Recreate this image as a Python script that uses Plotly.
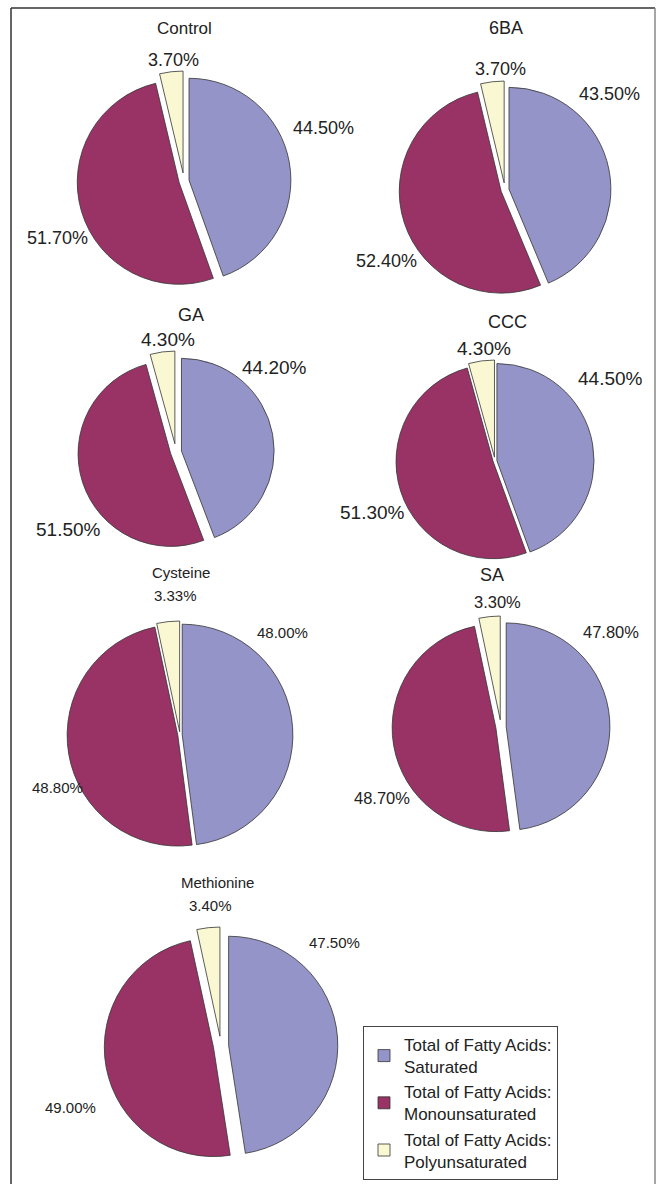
import plotly.graph_objects as go

# ---- data ----
treatments = ["Control", "6BA", "GA", "CCC", "Cysteine", "SA", "Methionine"]
categories = ["Total of Fatty Acids:<br>Saturated",
              "Total of Fatty Acids:<br>Monounsaturated",
              "Total of Fatty Acids:<br>Polyunsaturated"]
saturated = [44.50, 43.50, 44.20, 44.50, 48.00, 47.80, 47.50]
monounsaturated = [51.70, 52.40, 51.50, 51.30, 48.80, 48.70, 49.00]
polyunsaturated = [3.70, 3.70, 4.30, 4.30, 3.33, 3.30, 3.40]

# ---- layout / style (pixel geometry of each pie) ----
W, H = 659, 1184
colors = ["#9494C8", "#993366", "#FAF8D2"]
# centre x, centre y, overall half-size (px)
geom = [(184, 181, 110), (505, 190, 109), (176, 452, 101), (495, 461, 101),
        (180, 735, 114), (501, 727, 111), (221, 1046, 119)]
pulls = [[0.05, 0.05, 0.08], [0.04, 0.04, 0.07], [0.06, 0.06, 0.09],
         [0.02, 0.02, 0.04], [0.02, 0.02, 0.03], [0.05, 0.05, 0.07],
         [0.07, 0.07, 0.09]]
# label centres (sat, mono, poly) in px
label_pos = [[(323, 128), (57, 238), (173, 60)],
             [(609, 94), (386, 261), (500, 69)],
             [(274, 368), (68, 529), (168, 339)],
             [(610, 379), (372, 512), (484, 349)],
             [(282, 632), (57, 787), (175, 595)],
             [(611, 632), (382, 798), (497, 602)],
             [(334, 942), (70, 1107), (210, 905)]]
label_sizes = [18, 18, 19, 19, 15, 16.5, 15]
titles_pos = [(184, 29, 17), (506, 28, 18), (191, 315, 18), (507, 322, 18),
              (181, 573, 15), (492, 575, 18), (217, 883, 15)]
FONT = "Liberation Sans, Arial, sans-serif"
TXT = "#222222"

fig = go.Figure()
for i, name in enumerate(treatments):
    cx, cy, R = geom[i]
    vals = [saturated[i], monounsaturated[i], polyunsaturated[i]]
    fig.add_trace(go.Pie(
        labels=categories,
        values=vals,
        sort=False,
        direction="clockwise",
        rotation=0,
        pull=pulls[i],
        marker=dict(colors=colors, line=dict(color="#333333", width=0.8)),
        textinfo="none",
        domain=dict(x=[(cx - R) / W, (cx + R) / W],
                    y=[1 - (cy + R) / H, 1 - (cy - R) / H]),
        showlegend=(i == 0),
        hoverinfo="label+value",
        name=name,
    ))
    tx, ty, ts = titles_pos[i]
    fig.add_annotation(x=tx / W, y=1 - ty / H, xref="paper", yref="paper",
                       xanchor="center", yanchor="middle",
                       text=name, showarrow=False,
                       font=dict(family=FONT, size=ts, color=TXT))
    for v, (lx, ly) in zip(vals, label_pos[i]):
        fig.add_annotation(x=lx / W, y=1 - ly / H, xref="paper", yref="paper",
                           xanchor="center", yanchor="middle",
                           text=f"{v:.2f}%", showarrow=False,
                           font=dict(family=FONT, size=label_sizes[i], color=TXT))

# frame lines
fig.add_shape(type="line", xref="paper", yref="paper",
              x0=11 / W, x1=11 / W, y0=0, y1=1 - 8 / H,
              line=dict(color="#333333", width=1.5))
fig.add_shape(type="line", xref="paper", yref="paper",
              x0=11 / W, x1=655 / W, y0=1 - 8 / H, y1=1 - 8 / H,
              line=dict(color="#333333", width=1.5))
fig.add_shape(type="line", xref="paper", yref="paper",
              x0=655 / W, x1=655 / W, y0=0, y1=1 - 8 / H,
              line=dict(color="#888888", width=1.5))

fig.update_layout(
    width=W, height=H,
    margin=dict(l=0, r=0, t=0, b=0, autoexpand=False),
    paper_bgcolor="white", plot_bgcolor="white",
    font=dict(family=FONT, color=TXT),
    legend=dict(x=363 / W, y=1 - 1026 / H, xanchor="left", yanchor="top",
                bordercolor="#444444", borderwidth=1, bgcolor="white",
                font=dict(family=FONT, size=17, color=TXT),
                tracegroupgap=0, itemwidth=30),
)

fig.write_html("out.html")
